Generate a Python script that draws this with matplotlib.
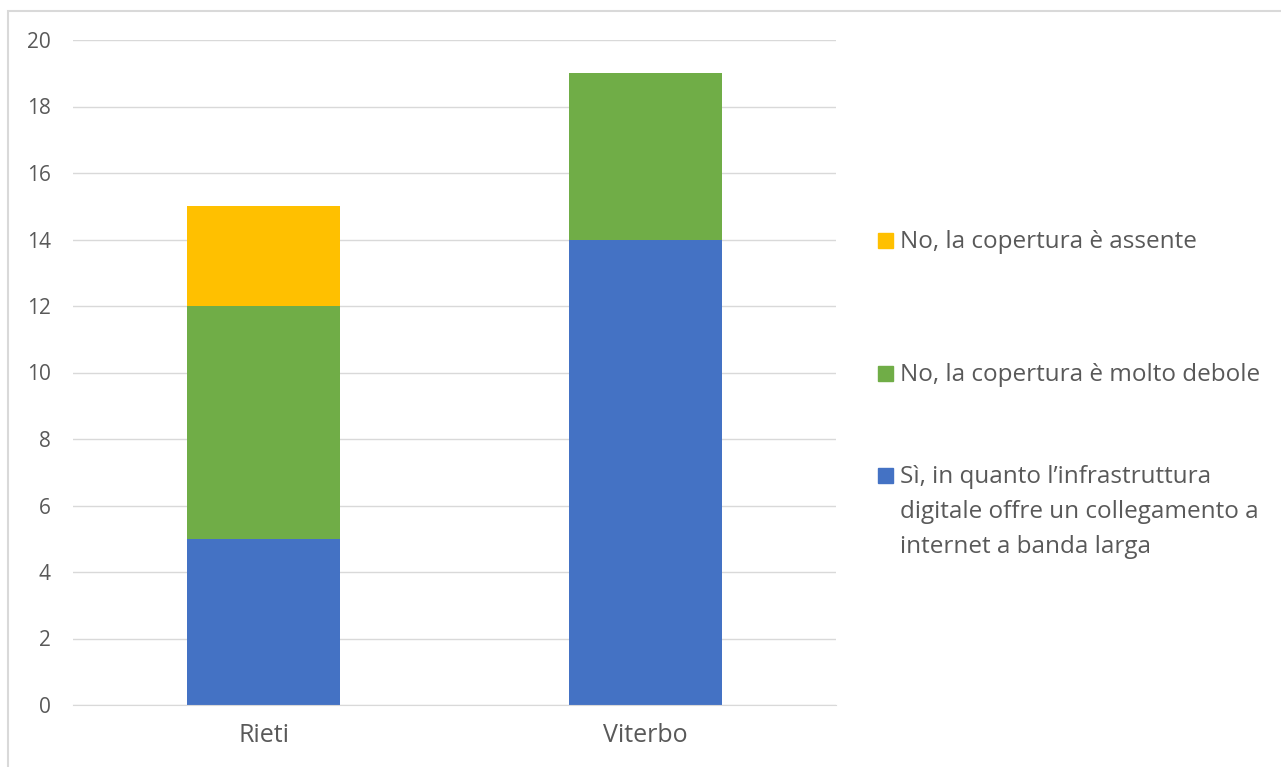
import matplotlib.pyplot as plt
from matplotlib.patches import Rectangle
import numpy as np

categories = ["Rieti", "Viterbo"]
si_banda_larga = [5, 14]
molto_debole = [7, 5]
assente = [3, 0]
series_labels = [
    ["Sì, in quanto l’infrastruttura", "digitale offre un collegamento a", "internet a banda larga"],
    ["No, la copertura è molto debole"],
    ["No, la copertura è assente"],
]
colors = ["#4472C4", "#70AD47", "#FFC000"]
yticks = [0, 2, 4, 6, 8, 10, 12, 14, 16, 18, 20]

plt.rcParams["font.family"] = ["Open Sans", "DejaVu Sans"]

W, H = 1281, 767
fig = plt.figure(figsize=(W / 100, H / 100), dpi=100)
ax = fig.add_axes([73 / W, 1 - 705 / H, (836 - 73) / W, (705 - 40) / H])

x = np.arange(len(categories))
bottom = np.zeros(len(categories))
for vals, col in zip([si_banda_larga, molto_debole, assente], colors):
    ax.bar(x, vals, width=0.4, bottom=bottom, color=col, zorder=2)
    bottom += np.array(vals)

ax.set_xlim(-0.5, 1.5)
ax.set_ylim(0, 20)
ax.set_yticks(yticks)
ax.set_xticks(x)
ax.set_xticklabels(categories)
ax.grid(axis="y", color="#D9D9D9", linewidth=1, zorder=0)
for s in ["top", "right", "left"]:
    ax.spines[s].set_visible(False)
ax.spines["bottom"].set_color("#D9D9D9")
ax.tick_params(length=0, colors="#595959")
ax.tick_params(axis="y", labelsize=15, pad=16)
ax.tick_params(axis="x", labelsize=18, pad=13)

# legend, drawn by hand (top entry first): (series index, square centre y, first baseline y)
entries = [(2, 240.5, 248), (1, 373.5, 381), (0, 475.5, 483)]
for idx, yc, yb in entries:
    fig.patches.append(Rectangle((878 / W, 1 - (yc + 7.5) / H), 15 / W, 15 / H,
                                 transform=fig.transFigure, color=colors[idx]))
    for k, line in enumerate(series_labels[idx]):
        fig.text(900 / W, 1 - (yb + 35 * k) / H, line, fontsize=17.5,
                 color="#595959", va="baseline")

fig.patches.append(Rectangle((8 / W, -0.1), 1.2, 1 - 11 / H + 0.1,
                             transform=fig.transFigure, fill=False, edgecolor="#D9D9D9", lw=1.5))
fig.savefig("out.png", dpi=100)
